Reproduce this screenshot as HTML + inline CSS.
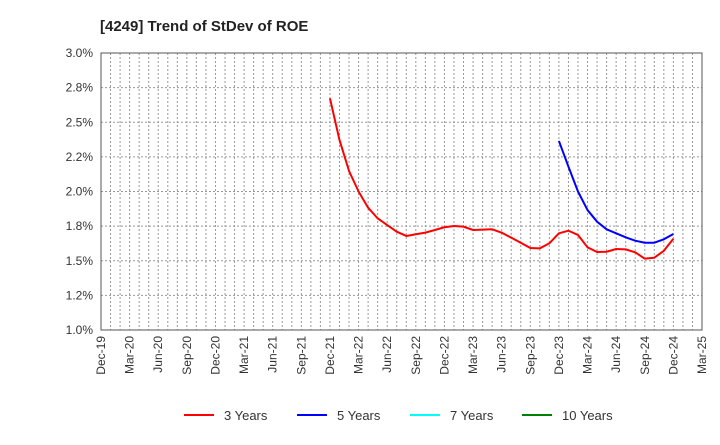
<!DOCTYPE html>
<html><head><meta charset="utf-8"><style>
body{margin:0;background:#fff;font-family:"Liberation Sans",Arial,sans-serif}
svg text{font-family:"Liberation Sans",Arial,sans-serif}
</style></head><body>
<svg id="chart" width="720" height="440" viewBox="0 0 720 440">
<text x="100" y="31" font-size="15" font-weight="bold" fill="#222">[4249]  Trend of StDev of ROE</text>
<g id="grid"></g><g id="axes"></g><g id="series"></g><g id="legend"></g>
</svg>
<script>
const yTicks=[1.0,1.25,1.5,1.75,2.0,2.25,2.5,2.75,3.0];
const yTickLabels=["1.0%","1.2%","1.5%","1.8%","2.0%","2.2%","2.5%","2.8%","3.0%"];
const xTickLabels=["Dec-19","Mar-20","Jun-20","Sep-20","Dec-20","Mar-21","Jun-21","Sep-21","Dec-21","Mar-22","Jun-22","Sep-22","Dec-22","Mar-23","Jun-23","Sep-23","Dec-23","Mar-24","Jun-24","Sep-24","Dec-24","Mar-25"];
const s3Start=24;
const s3=[2.673,2.372,2.148,2.0,1.883,1.806,1.758,1.71,1.679,1.691,1.703,1.722,1.742,1.751,1.746,1.722,1.725,1.727,1.703,1.667,1.63,1.592,1.589,1.626,1.698,1.717,1.686,1.597,1.563,1.565,1.585,1.582,1.561,1.515,1.522,1.572,1.659];
const s5Start=48;
const s5=[2.365,2.179,2.0,1.866,1.782,1.727,1.698,1.669,1.645,1.63,1.63,1.655,1.693];
const legendNames=["3 Years","5 Years","7 Years","10 Years"];
const legendColors=["#ff0000","#0000ff","#00ffff","#008000"];
const L=101,R=702,T=53,B=330,M=63;
const x=m=>L+(R-L)*m/M, y=v=>B-(v-1.0)/2.0*(B-T);
const NS="http://www.w3.org/2000/svg";
function mk(t,a,p){const e=document.createElementNS(NS,t);for(const k in a)e.setAttribute(k,a[k]);p.appendChild(e);return e;}
const grid=document.getElementById('grid'),axes=document.getElementById('axes'),ser=document.getElementById('series'),leg=document.getElementById('legend');
for(let m=1;m<M;m++){const l=mk('line',{x1:x(m),x2:x(m),y1:T,y2:B,stroke:'#999','stroke-width':1,'stroke-dasharray':'2,2'},grid);

}
yTicks.forEach((v,i)=>{if(i>0&&i<yTicks.length-1){const l=mk('line',{x1:L,x2:R,y1:y(v),y2:y(v),stroke:'#999','stroke-width':1,'stroke-dasharray':'2,2'},grid);

}
const t=mk('text',{x:L-8,y:y(v)+4,'text-anchor':'end','font-size':12,fill:'#333'},axes);t.textContent=yTickLabels[i];

});
const fr=mk('rect',{x:L,y:T,width:R-L,height:B-T,fill:'none',stroke:'#555','stroke-width':1},axes);


xTickLabels.forEach((s,i)=>{const xx=x(i*3);const t=mk('text',{x:0,y:0,'text-anchor':'end','font-size':12,fill:'#333',transform:`translate(${xx+4},${B+6}) rotate(-90)`},axes);t.textContent=s;

});
function line(d,st,c,n){const p=mk('polyline',{points:d.map((v,i)=>x(st+i)+','+y(v)).join(' '),fill:'none',stroke:c,'stroke-width':2,'stroke-linejoin':'round'},ser);

}
line(s3,s3Start,'#ff0000','series-3-years');
line(s5,s5Start,'#0000ff','series-5-years');
const lx=[184,297,410,522];
legendNames.forEach((n,i)=>{const g=mk('g',{},leg);


mk('line',{x1:lx[i],x2:lx[i]+30,y1:415,y2:415,stroke:legendColors[i],'stroke-width':2},g);
const t=mk('text',{x:lx[i]+40,y:420,'font-size':13,fill:'#333'},g);t.textContent=n;});
</script>
</body></html>
